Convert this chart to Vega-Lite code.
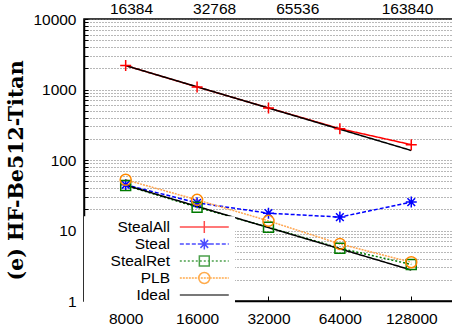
{
  "$schema": "https://vega.github.io/schema/vega-lite/v6.json",
  "width": 372,
  "height": 282,
  "autosize": {"type": "none"},
  "padding": {"left": 84, "top": 19, "right": 0, "bottom": 28},
  "background": "white",
  "config": {
    "view": {"stroke": "black", "strokeWidth": 1.5},
    "font": "Liberation Sans",
    "legend": {"labelFont": "Liberation Sans", "labelColor": "black", "orient": "none", "rowPadding": -2.5}
  },
  "datasets": {
    "main": [
      {"n": 8000, "t": 2184, "series": "StealAll", "grp": "StealAll"},
      {"n": 16000, "t": 1088, "series": "StealAll", "grp": "StealAll"},
      {"n": 32000, "t": 548, "series": "StealAll", "grp": "StealAll"},
      {"n": 64000, "t": 278, "series": "StealAll", "grp": "StealAll"},
      {"n": 128000, "t": 165, "series": "StealAll", "grp": "StealAll"},
      {"n": 8000, "t": 44.5, "series": "Steal", "grp": "Steal"},
      {"n": 16000, "t": 24.7, "series": "Steal", "grp": "Steal"},
      {"n": 32000, "t": 17.6, "series": "Steal", "grp": "Steal"},
      {"n": 64000, "t": 15.5, "series": "Steal", "grp": "Steal"},
      {"n": 128000, "t": 25.3, "series": "Steal", "grp": "Steal"},
      {"n": 8000, "t": 43.5, "series": "StealRet", "grp": "StealRet"},
      {"n": 16000, "t": 21.4, "series": "StealRet", "grp": "StealRet"},
      {"n": 32000, "t": 11.1, "series": "StealRet", "grp": "StealRet"},
      {"n": 64000, "t": 5.6, "series": "StealRet", "grp": "StealRet"},
      {"n": 128000, "t": 3.3, "series": "StealRet", "grp": "StealRet"},
      {"n": 8000, "t": 52.4, "series": "PLB", "grp": "PLB"},
      {"n": 16000, "t": 27.2, "series": "PLB", "grp": "PLB"},
      {"n": 32000, "t": 13.7, "series": "PLB", "grp": "PLB"},
      {"n": 64000, "t": 6.45, "series": "PLB", "grp": "PLB"},
      {"n": 128000, "t": 3.55, "series": "PLB", "grp": "PLB"},
      {"n": 8000, "t": 2184, "series": "Ideal", "grp": "IdealA"},
      {"n": 16000, "t": 1092, "series": "Ideal", "grp": "IdealA"},
      {"n": 32000, "t": 546, "series": "Ideal", "grp": "IdealA"},
      {"n": 64000, "t": 273, "series": "Ideal", "grp": "IdealA"},
      {"n": 128000, "t": 136.5, "series": "Ideal", "grp": "IdealA"},
      {"n": 8000, "t": 44, "series": "Ideal", "grp": "IdealB"},
      {"n": 16000, "t": 22, "series": "Ideal", "grp": "IdealB"},
      {"n": 32000, "t": 11, "series": "Ideal", "grp": "IdealB"},
      {"n": 64000, "t": 5.5, "series": "Ideal", "grp": "IdealB"},
      {"n": 128000, "t": 2.75, "series": "Ideal", "grp": "IdealB"}
    ],
    "top": [{"p": 16384}, {"p": 32768}, {"p": 65536}, {"p": 163840}]
  },
  "layer": [
    {
      "data": {"name": "main"},
      "layer": [
        {
          "mark": {"type": "line"},
          "encoding": {
            "x": {
              "field": "n", "type": "quantitative", "title": null,
              "scale": {"type": "log", "domain": [5338, 197600], "nice": false},
              "axis": {
                "values": [8000, 16000, 32000, 64000, 128000], "format": "d",
                "tickSize": -5, "tickColor": "black", "tickWidth": 1,
                "domainColor": "black", "domainWidth": 1.5, "grid": false,
                "labelFontSize": 15.5, "labelColor": "black", "labelPadding": 15,
                "labelFlush": false, "labelOverlap": false, "labelBound": false
              }
            },
            "y": {
              "field": "t", "type": "quantitative", "title": "(e) HF-Be512-Titan",
              "scale": {"type": "log", "domain": [1, 10000], "nice": false},
              "axis": {
                "title": "(e) HF-Be512-Titan",
                "values": [1,2,3,4,5,6,7,8,9,10,20,30,40,50,60,70,80,90,100,200,300,400,500,600,700,800,900,1000,2000,3000,4000,5000,6000,7000,8000,9000,10000],
                "format": "d",
                "labelExpr": "indexof(['1','10','100','1000','10000'], datum.label) >= 0 ? datum.label : ''",
                "grid": true, "gridDash": [1, 2], "gridColor": "#707070", "gridWidth": 1,
                "tickSize": -4, "tickColor": "black", "tickWidth": 1,
                "domainColor": "black", "domainWidth": 1.5,
                "labelFontSize": 15.5, "labelColor": "black", "labelPadding": 12,
                "labelFlush": false, "labelOverlap": false, "labelBound": false,
                "titleFont": "DejaVu Serif", "titleFontWeight": "bold", "titleFontSize": 20.5,
                "titleColor": "black", "titleAngle": -90, "titleAlign": "center", "titleBaseline": "middle",
                "titleX": -68, "titleY": 151
              }
            },
            "detail": {"field": "grp"},
            "color": {
              "field": "series", "type": "nominal", "title": null, "legend": null,
              "scale": {"domain": ["StealAll", "Steal", "StealRet", "PLB", "Ideal"], "range": ["#ff0000", "#0000ff", "#007a00", "#ffa54f", "#000000"]}
            },
            "strokeDash": {
              "field": "series", "type": "nominal", "title": null, "legend": null,
              "scale": {"domain": ["StealAll", "Steal", "StealRet", "PLB", "Ideal"], "range": [[1, 0], [4, 2], [2, 2], [2, 1], [1, 0]]}
            },
            "strokeWidth": {
              "field": "series", "type": "nominal", "title": null, "legend": null,
              "scale": {"domain": ["StealAll", "Steal", "StealRet", "PLB", "Ideal"], "range": [1.5, 1.5, 1.5, 1, 1]}
            }
          }
        },
        {
          "mark": {"type": "point", "filled": false, "strokeWidth": 1.5, "size": 121, "opacity": 1},
          "encoding": {
            "x": {"field": "n", "type": "quantitative", "title": null, "scale": {"type": "log", "domain": [5338, 197600], "nice": false}},
            "y": {"field": "t", "type": "quantitative", "title": "(e) HF-Be512-Titan", "scale": {"type": "log", "domain": [1, 10000], "nice": false}},
            "color": {
              "field": "series", "type": "nominal", "title": null, "legend": null,
              "scale": {"domain": ["StealAll", "Steal", "StealRet", "PLB", "Ideal"], "range": ["#ff0000", "#0000ff", "#007a00", "#ff8800", "#000000"]}
            },
            "shape": {
              "field": "series", "type": "nominal", "title": null, "legend": null,
              "scale": {
                "domain": ["StealAll", "Steal", "StealRet", "PLB", "Ideal"],
                "range": ["M-1,0H1M0,-1V1", "M-1,0H1M0,-1V1M-0.7,-0.7L0.7,0.7M-0.7,0.7L0.7,-0.7", "M-0.9,-0.9H0.9V0.9H-0.9Z", "circle", "M0,0"]
              }
            }
          }
        },
        {
          "transform": [{"filter": "false"}],
          "mark": {"type": "point", "filled": false, "strokeWidth": 1.5, "size": 121},
          "encoding": {
            "x": {"field": "n", "type": "quantitative", "title": null, "scale": {"type": "log", "domain": [5338, 197600], "nice": false}},
            "y": {"field": "t", "type": "quantitative", "title": "(e) HF-Be512-Titan", "scale": {"type": "log", "domain": [1, 10000], "nice": false}},
            "color": {
              "field": "series", "type": "nominal", "title": null,
              "scale": {"domain": ["StealAll", "Steal", "StealRet", "PLB", "Ideal"], "range": ["#ff0000", "#0000ff", "#007a00", "#ff8800", "#000000"]},
              "legend": {
                "legendX": 0, "legendY": 197.25, "padding": 3, "fillColor": "white", "title": null,
                "symbolSize": 121, "symbolStrokeWidth": 1.5, "symbolOffset": 109.55,
                "labelAlign": "right", "labelOffset": -42.05, "labelFontSize": 15.5, "rowPadding": -2.5
              }
            },
            "shape": {
              "field": "series", "type": "nominal", "title": null,
              "scale": {
                "domain": ["StealAll", "Steal", "StealRet", "PLB", "Ideal"],
                "range": [
                  "M-4.45,0H4.45M0,-1.1V1.1",
                  "M-4.45,0H-3.72M-3.36,0H-2.63M-2.27,0H-1.54M-1.18,0H-0.45M-0.09,0H0.64M1,0H1.73M2.09,0H2.82M3.18,0H3.91M4.27,0H4.45M-1,0H1M0,-1V1M-0.7,-0.7L0.7,0.7M-0.7,0.7L0.7,-0.7",
                  "M-4.45,0H-4.09M-3.72,0H-3.36M-3,0H-2.64M-2.27,0H-1.91M-1.55,0H-1.19M-0.82,0H-0.46M-0.09,0H0.27M0.64,0H1M1.36,0H1.72M2.09,0H2.45M2.82,0H3.18M3.54,0H3.9M4.27,0H4.45M-0.9,-0.9H0.9V0.9H-0.9Z",
                  "M-4.45,0H-4.09M-3.905,0H-3.54M-3.36,0H-3M-2.815,0H-2.45M-2.27,0H-1.91M-1.725,0H-1.36M-1.18,0H-0.82M-0.635,0H-0.27M-0.09,0H0.27M0.455,0H0.82M1,0H1.36M1.545,0H1.91M2.09,0H2.45M2.635,0H3M3.18,0H3.54M3.725,0H4.09M4.27,0H4.45M-1,0A1,1 0 1,0 1,0A1,1 0 1,0 -1,0Z",
                  "M-4.45,0H4.45"
                ]
              }
            }
          }
        }
      ],
      "resolve": {"scale": {"color": "independent", "shape": "independent", "strokeDash": "independent", "strokeWidth": "independent"}}
    },
    {
      "data": {"name": "top"},
      "mark": {"type": "point", "opacity": 0},
      "encoding": {
        "x": {
          "field": "p", "type": "quantitative", "title": null,
          "scale": {"type": "log", "domain": [11070, 246400], "nice": false},
          "axis": {
            "orient": "top", "values": [16384, 32768, 65536, 163840], "format": "d",
            "ticks": false, "domain": false, "grid": false,
            "labelFontSize": 15.5, "labelColor": "black", "labelPadding": 3,
            "labelFlush": false, "labelOverlap": false, "labelBound": false
          }
        }
      }
    }
  ],
  "resolve": {"scale": {"x": "independent"}}
}
